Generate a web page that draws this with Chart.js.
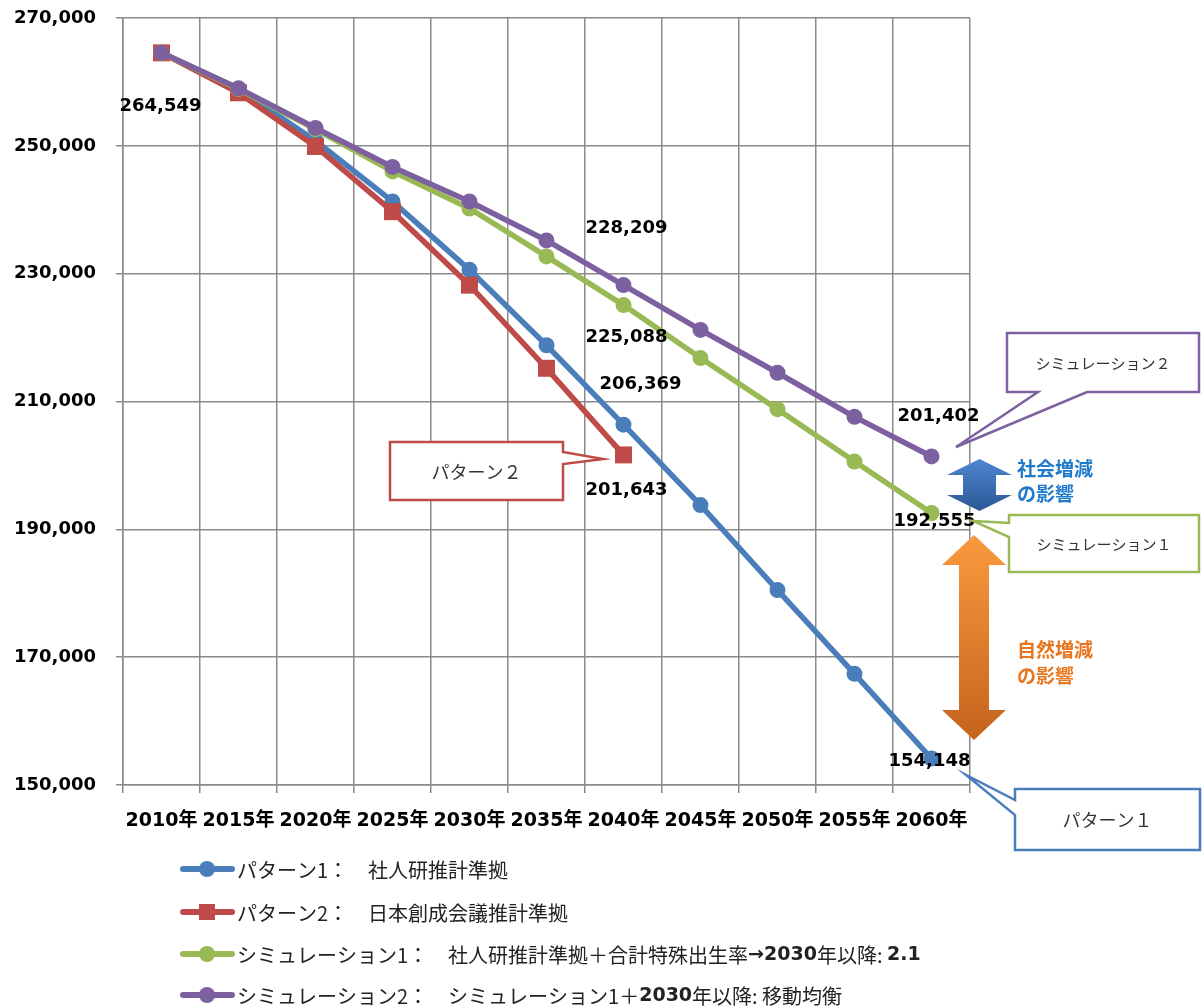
<!DOCTYPE html>
<html lang="ja">
<head>
<meta charset="utf-8">
<title>人口推計</title>
<script src="https://cdn.jsdelivr.net/npm/chart.js@4.4.1/dist/chart.umd.min.js"></script>
<style>
  html, body { margin: 0; padding: 0; background: #fff; }
  #wrap { width: 1202px; height: 1008px; position: relative; }
</style>
</head>
<body>
<div id="wrap"><canvas id="popChart"></canvas></div>
<script>
// categories and series
const years = ['2010年', '2015年', '2020年', '2025年', '2030年', '2035年', '2040年', '2045年', '2050年', '2055年', '2060年'];
const pattern1 = [264549, 258900, 250800, 241300, 230600, 218800, 206369, 193800, 180500, 167400, 154148];
const pattern2 = [264549, 258300, 249900, 239700, 228200, 215200, 201643];
const simulation1 = [264549, 258900, 252600, 246000, 240200, 232700, 225088, 216800, 208800, 200600, 192555];
const simulation2 = [264549, 259000, 252800, 246700, 241300, 235200, 228209, 221200, 214500, 207600, 201402];
const yTicks = { min: 150000, max: 270000, step: 20000 };

const seriesNames = ['パターン1', 'パターン2', 'シミュレーション1', 'シミュレーション2'];
const colors = ['#4A7EBB', '#BE4B48', '#98B954', '#7D60A0'];

// value labels: [dataset, index, dx, dy]
const valueLabels = [
  [3, 0, -1, 53],
  [3, 6, 3, -57],
  [2, 6, 3, 32],
  [0, 6, 17, -40],
  [1, 6, 3, 35],
  [3, 10, 7, -40],
  [2, 10, 3, 8],
  [0, 10, -2, 3],
];

const legendRows = [
  [['パターン1：　社人研推計準拠', false]],
  [['パターン2：　日本創成会議推計準拠', false]],
  [['シミュレーション1：　社人研推計準拠＋合計特殊出生率', false], ['→2030', true], ['年以降: ', false], ['2.1', true]],
  [['シミュレーション2：　シミュレーション1＋', false], ['2030', true], ['年以降: 移動均衡', false]],
];

const fmt = (v) => v.toLocaleString('en-US');
const numFont = 'bold 18px "DejaVu Sans", "Noto Sans CJK JP", sans-serif';
const jpFont = (px) => px + 'px "Noto Sans CJK JP", sans-serif';

function callout(ctx, box, ptr, color, text, size) {
  const { x, y, w, h } = box;
  ctx.beginPath();
  ctx.moveTo(x, y);
  if (ptr.side === 'right') {
    ctx.lineTo(x + w, y);
    ctx.lineTo(x + w, ptr.a);
    ctx.lineTo(ptr.tx, ptr.ty);
    ctx.lineTo(x + w, ptr.b);
    ctx.lineTo(x + w, y + h);
    ctx.lineTo(x, y + h);
  } else if (ptr.side === 'bottom') {
    ctx.lineTo(x + w, y);
    ctx.lineTo(x + w, y + h);
    ctx.lineTo(ptr.b, y + h);
    ctx.lineTo(ptr.tx, ptr.ty);
    ctx.lineTo(ptr.a, y + h);
    ctx.lineTo(x, y + h);
  } else {
    ctx.lineTo(x + w, y);
    ctx.lineTo(x + w, y + h);
    ctx.lineTo(x, y + h);
    ctx.lineTo(x, ptr.b);
    ctx.lineTo(ptr.tx, ptr.ty);
    ctx.lineTo(x, ptr.a);
  }
  ctx.closePath();
  ctx.fillStyle = '#fff';
  ctx.fill();
  ctx.lineWidth = 2.5;
  ctx.strokeStyle = color;
  ctx.lineJoin = 'miter';
  ctx.stroke();
  ctx.fillStyle = '#333';
  ctx.font = jpFont(size);
  ctx.textAlign = 'center';
  ctx.textBaseline = 'middle';
  ctx.fillText(text, x + w / 2, y + h / 2 + 1);
}

function doubleArrow(ctx, cx, top, bottom, headW, shaftW, headH, c1, c2) {
  const g = ctx.createLinearGradient(0, top, 0, bottom);
  g.addColorStop(0, c1);
  g.addColorStop(1, c2);
  ctx.beginPath();
  ctx.moveTo(cx, top);
  ctx.lineTo(cx + headW / 2, top + headH);
  ctx.lineTo(cx + shaftW / 2, top + headH);
  ctx.lineTo(cx + shaftW / 2, bottom - headH);
  ctx.lineTo(cx + headW / 2, bottom - headH);
  ctx.lineTo(cx, bottom);
  ctx.lineTo(cx - headW / 2, bottom - headH);
  ctx.lineTo(cx - shaftW / 2, bottom - headH);
  ctx.lineTo(cx - shaftW / 2, top + headH);
  ctx.lineTo(cx - headW / 2, top + headH);
  ctx.closePath();
  ctx.fillStyle = g;
  ctx.fill();
}

const overlay = {
  id: 'overlay',
  afterDraw(chart) {
    const ctx = chart.ctx;
    ctx.save();

    // value labels
    ctx.font = numFont;
    ctx.fillStyle = '#000';
    ctx.textAlign = 'center';
    ctx.textBaseline = 'middle';
    valueLabels.forEach(([ds, i, dx, dy]) => {
      const pt = chart.getDatasetMeta(ds).data[i];
      const v = chart.data.datasets[ds].data[i];
      ctx.fillText(fmt(v), pt.x + dx, pt.y + dy);
    });

    // arrows and their notes
    doubleArrow(ctx, 979.5, 459, 511, 65, 33, 16, '#4F86D0', '#2A5896');
    doubleArrow(ctx, 974, 535, 740, 64, 30, 30, '#FA9A3E', '#C5621C');
    ctx.textAlign = 'left';
    ctx.font = 'bold 19px "Noto Sans CJK JP", sans-serif';
    ctx.fillStyle = '#1F7ACB';
    ctx.fillText('社会増減', 1017, 469);
    ctx.fillText('の影響', 1017, 494);
    ctx.fillStyle = '#E8761E';
    ctx.fillText('自然増減', 1017, 650);
    ctx.fillText('の影響', 1017, 676);

    // callouts
    callout(ctx, { x: 390, y: 442, w: 173, h: 58 }, { side: 'right', a: 452, b: 464, tx: 603, ty: 459 }, colors[1], 'パターン２', 18);
    callout(ctx, { x: 1007, y: 333, w: 192, h: 59 }, { side: 'bottom', a: 1038, b: 1087, tx: 956, ty: 447 }, colors[3], 'シミュレーション２', 15);
    callout(ctx, { x: 1009, y: 515, w: 190, h: 57 }, { side: 'left', a: 523, b: 537, tx: 973, ty: 521 }, colors[2], 'シミュレーション１', 15);
    callout(ctx, { x: 1015, y: 789, w: 185, h: 61 }, { side: 'left', a: 800, b: 815, tx: 966, ty: 775 }, colors[0], 'パターン１', 18);

    // legend
    const rowY = [869, 912, 954, 995];
    legendRows.forEach((parts, r) => {
      const y = rowY[r];
      ctx.strokeStyle = colors[r];
      ctx.lineWidth = 6;
      ctx.lineCap = 'round';
      ctx.beginPath();
      ctx.moveTo(183, y);
      ctx.lineTo(232, y);
      ctx.stroke();
      ctx.fillStyle = colors[r];
      ctx.beginPath();
      if (r === 1) {
        ctx.rect(199, y - 8, 16, 16);
      } else {
        ctx.arc(207, y, 8, 0, Math.PI * 2);
      }
      ctx.fill();
      let x = 237;
      ctx.fillStyle = '#222';
      ctx.textAlign = 'left';
      parts.forEach(([txt, bold]) => {
        ctx.font = bold ? 'bold 19px "DejaVu Sans", "Noto Sans CJK JP", sans-serif' : jpFont(20);
        ctx.fillText(txt, x, y + 1);
        x += ctx.measureText(txt).width;
      });
    });

    ctx.restore();
  },
};

function lineSet(label, data, color, order, square) {
  return {
    label,
    data,
    borderColor: color,
    backgroundColor: color,
    borderWidth: 5.5,
    pointStyle: square ? 'rect' : 'circle',
    pointRadius: square ? 12 : 8,
    pointHoverRadius: square ? 12 : 8,
    pointBorderWidth: 0,
    pointBackgroundColor: color,
    tension: 0,
    fill: false,
    order,
  };
}

const gridColor = '#8a8a8a';

new Chart(document.getElementById('popChart'), {
  type: 'line',
  data: {
    labels: years,
    datasets: [
      lineSet(seriesNames[0], pattern1, colors[0], 4, false),
      lineSet(seriesNames[1], pattern2, colors[1], 3, true),
      lineSet(seriesNames[2], simulation1, colors[2], 2, false),
      lineSet(seriesNames[3], simulation2, colors[3], 1, false),
    ],
  },
  options: {
    responsive: true,
    maintainAspectRatio: false,
    animation: false,
    layout: { padding: { left: 8, top: 18, right: 232, bottom: 173 } },
    plugins: {
      legend: { display: false },
      tooltip: { enabled: false },
    },
    scales: {
      x: {
        type: 'category',
        offset: true,
        grid: { offset: true, color: gridColor, lineWidth: 1.5, tickLength: 8 },
        border: { color: gridColor, width: 1.5 },
        ticks: {
          color: '#000',
          font: { family: '"DejaVu Sans", "Noto Sans CJK JP", sans-serif', size: 19, weight: 'bold' },
          maxRotation: 0,
          autoSkip: false,
          padding: 17,
        },
        afterFit: (s) => { s.height = 50; },
      },
      y: {
        min: yTicks.min,
        max: yTicks.max,
        grid: { color: gridColor, lineWidth: 1.5, tickLength: 7 },
        border: { color: gridColor, width: 1.5 },
        ticks: {
          stepSize: yTicks.step,
          color: '#000',
          font: { family: '"DejaVu Sans", sans-serif', size: 18, weight: 'bold' },
          padding: 20,
          callback: (v) => fmt(v),
        },
        afterFit: (s) => {
          s.width = 115;
          s.paddingTop = 11;
          s.paddingBottom = 11;
        },
      },
    },
  },
  plugins: [overlay],
});
</script>
</body>
</html>
